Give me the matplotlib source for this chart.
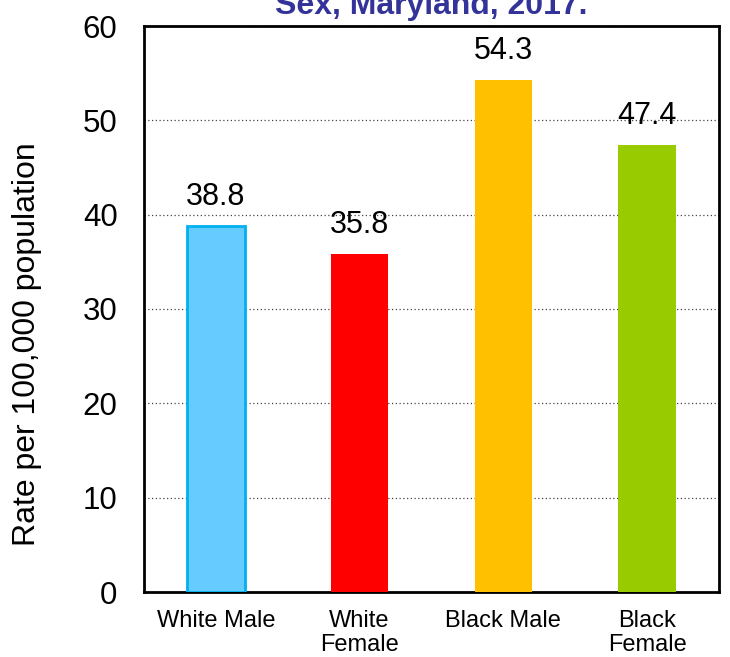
import matplotlib
matplotlib.use("Agg")
import matplotlib.pyplot as plt

plt.rcParams["font.family"] = ["Liberation Sans", "DejaVu Sans"]

categories = ["White Male", "White\nFemale", "Black Male", "Black\nFemale"]
rates = [38.8, 35.8, 54.3, 47.4]
fill_colors = ["#66CCFF", "#FF0000", "#FFC000", "#99CC00"]
edge_colors = ["#00B0F0", "#FF0000", "#FFC000", "#99CC00"]
yticks = [0, 10, 20, 30, 40, 50, 60]

fig = plt.figure(figsize=(7.3, 6.57), dpi=100)
ax = fig.add_axes([144 / 730, 1 - 592 / 657, (719 - 144) / 730, (592 - 26) / 657])

x = range(len(categories))
bars = ax.bar(x, rates, width=0.4, color=fill_colors, edgecolor=edge_colors,
              linewidth=[2, 0, 0, 0], zorder=3)
for b, v in zip(bars, rates):
    ax.annotate(f"{v:.1f}", (b.get_x() + b.get_width() / 2, v), xytext=(0, 10),
                textcoords="offset points", ha="center", va="bottom", fontsize=22, zorder=4)

ax.set_xlim(-0.5, len(categories) - 0.5)
ax.set_ylim(0, 60)
ax.set_yticks(yticks)
ax.set_xticks(list(x))
ax.set_xticklabels(categories, fontsize=17, linespacing=1.1)
ax.tick_params(axis="y", length=0, pad=19, labelsize=22.5)
ax.tick_params(axis="x", length=0, pad=13)
ax.yaxis.grid(True, linestyle=(0, (1, 2)), color="#444444", linewidth=0.9, zorder=0)
for s in ax.spines.values():
    s.set_linewidth(2)
ax.set_ylabel("Rate per 100,000 population", fontsize=23)
ax.yaxis.set_label_coords(-0.177, 0.438)

fig.text((144 + 719) / 2 / 730, 1 - 14 / 657, "Sex, Maryland, 2017.", ha="center",
         va="baseline", fontsize=23, fontweight="bold", color="#333399")

fig.savefig("out.png", dpi=100)
